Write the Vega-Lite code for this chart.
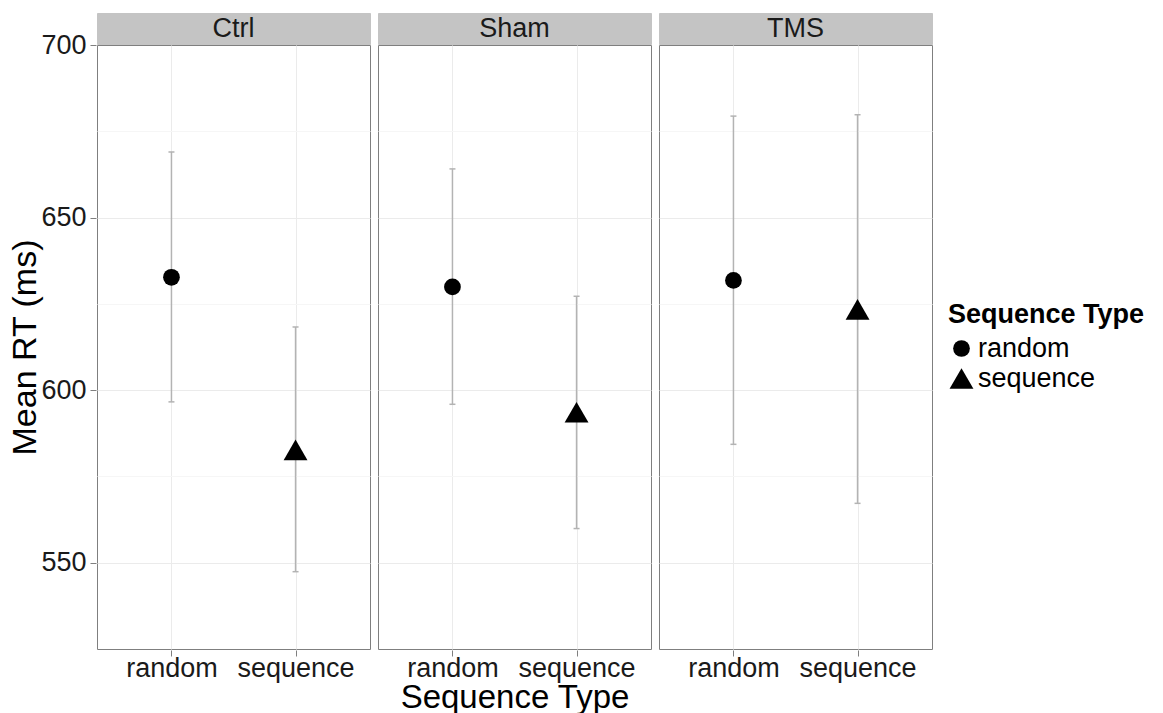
{
  "$schema": "https://vega.github.io/schema/vega-lite/v6.json",
  "padding": {"left": 8, "top": 12, "right": 5, "bottom": 2},
  "background": "white",
  "spacing": -14,
  "config": {
    "font": "Liberation Sans",
    "view": {"stroke": "#7f7f7f", "strokeWidth": 1}
  },
  "data": {
    "values": [
      {"Group": "Ctrl", "Type": "random", "mean": 632.7, "lo": 596.6, "hi": 669.0},
      {"Group": "Ctrl", "Type": "sequence", "mean": 582.7, "lo": 547.4, "hi": 618.3},
      {"Group": "Sham", "Type": "random", "mean": 629.9, "lo": 595.9, "hi": 664.1},
      {"Group": "Sham", "Type": "sequence", "mean": 593.6, "lo": 559.9, "hi": 627.2},
      {"Group": "TMS", "Type": "random", "mean": 631.8, "lo": 584.3, "hi": 679.4},
      {"Group": "TMS", "Type": "sequence", "mean": 623.4, "lo": 567.2, "hi": 679.8}
    ]
  },
  "vconcat": [
    {
      "facet": {"column": {"field": "Group", "type": "nominal", "sort": ["Ctrl", "Sham", "TMS"], "header": null}},
      "spacing": 6,
      "spec": {
        "width": 273,
        "height": 31,
        "view": {"fill": "#c4c4c4", "stroke": "#c4c4c4"},
        "transform": [{"filter": "datum.Type === 'random'"}],
        "mark": {"type": "text", "fontSize": 27, "color": "#1a1a1a"},
        "encoding": {"text": {"field": "Group", "type": "nominal"}}
      }
    },
    {
      "facet": {
        "column": {
          "field": "Group", "type": "nominal", "sort": ["Ctrl", "Sham", "TMS"],
          "header": {"labels": false, "labelPadding": 0, "title": "Sequence Type", "titleOrient": "bottom", "titleFontSize": 33, "titleFontWeight": "normal", "titleColor": "#000000", "titlePadding": -9}
        }
      },
      "spacing": 6,
      "spec": {
        "width": 273,
        "height": 604,
        "encoding": {
          "x": {
            "field": "Type", "type": "nominal",
            "scale": {"type": "point", "padding": 0.6},
            "axis": {"title": null, "labelAngle": 0, "labelFontSize": 27, "labelColor": "#1a1a1a", "tickSize": 6, "tickColor": "#7f7f7f", "labelPadding": -1, "domain": false, "grid": true, "gridColor": "#ebebeb", "gridWidth": 1}
          }
        },
        "layer": [
          {
            "mark": {"type": "rule", "color": "#b3b3b3", "strokeWidth": 1.5},
            "encoding": {
              "y": {
                "field": "lo", "type": "quantitative",
                "scale": {"domain": [525, 700], "nice": false, "zero": false},
                "axis": {
                  "title": "Mean RT (ms)", "titleFontSize": 34, "titleFontWeight": "normal", "titleColor": "#000000", "titlePadding": -2,
                  "values": [525, 550, 575, 600, 625, 650, 675, 700],
                  "labelExpr": "datum.value % 50 === 0 ? datum.label : ''",
                  "labelFontSize": 27, "labelColor": "#1a1a1a", "labelPadding": 4,
                  "tickSize": 6, "tickColor": "#7f7f7f",
                  "tickOpacity": {"condition": {"test": "datum.value % 50 === 0", "value": 1}, "value": 0},
                  "gridColor": {"condition": {"test": "datum.value % 50 === 0", "value": "#ebebeb"}, "value": "#f6f6f6"},
                  "gridOpacity": {"condition": {"test": "datum.value === 525 || datum.value === 700", "value": 0}, "value": 1},
                  "gridWidth": 1,
                  "domain": false
                }
              },
              "y2": {"field": "hi"}
            }
          },
          {
            "mark": {"type": "tick", "color": "#b3b3b3", "size": 6, "thickness": 1.5, "opacity": 1},
            "encoding": {"y": {"field": "lo", "type": "quantitative"}}
          },
          {
            "mark": {"type": "tick", "color": "#b3b3b3", "size": 6, "thickness": 1.5, "opacity": 1},
            "encoding": {"y": {"field": "hi", "type": "quantitative"}}
          },
          {
            "mark": {"type": "point", "filled": true, "color": "#000000", "opacity": 1},
            "encoding": {
              "y": {"field": "mean", "type": "quantitative"},
              "shape": {
                "field": "Type", "type": "nominal",
                "scale": {"domain": ["random", "sequence"], "range": ["circle", "triangle-up"]},
                "legend": {
                  "title": "Sequence Type", "orient": "none", "legendX": 851, "legendY": 289,
                  "titleFontSize": 27, "titleFontWeight": "bold", "titleColor": "#000000", "titlePadding": 6, "titleLimit": 400,
                  "labelFontSize": 27, "labelColor": "#000000", "labelOffset": 3, "labelLimit": 400, "rowPadding": 2,
                  "symbolFillColor": "#000000", "symbolStrokeColor": "#000000"
                }
              },
              "size": {
                "field": "Type", "type": "nominal",
                "scale": {"domain": ["random", "sequence"], "range": [280, 570]}
              }
            }
          }
        ]
      }
    }
  ]
}
